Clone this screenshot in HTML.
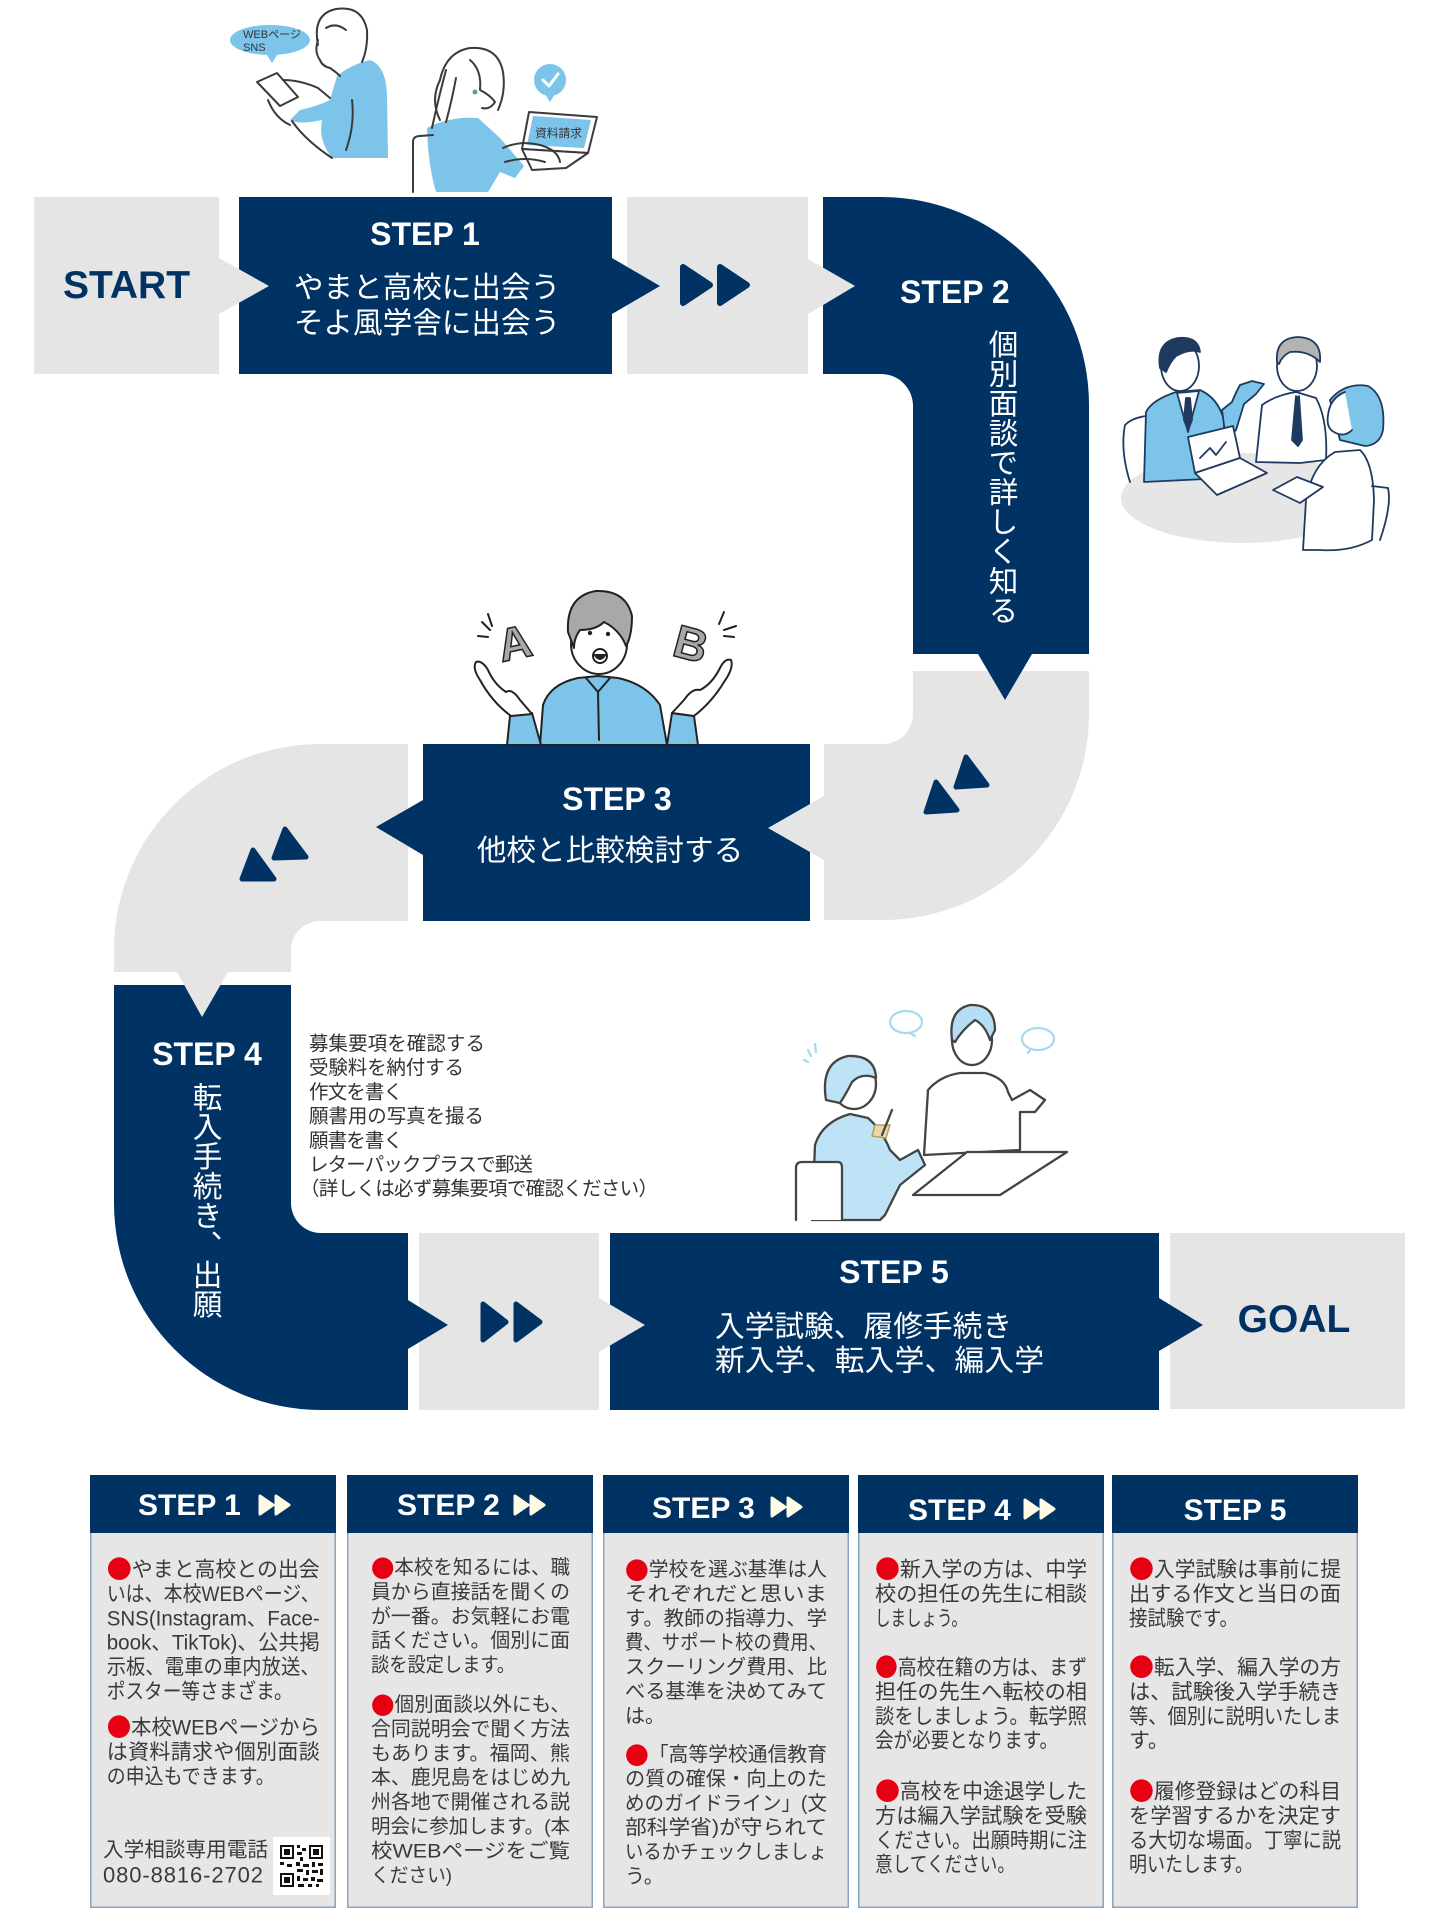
<!DOCTYPE html>
<html lang="ja">
<head>
<meta charset="utf-8">
<title>入学までの流れ</title>
<style>
html,body{margin:0;padding:0;background:#fff;}
body{width:1440px;height:1922px;position:relative;overflow:hidden;font-family:"Liberation Sans","Noto Sans CJK JP",sans-serif;}
svg.main{position:absolute;left:0;top:0;}
.v{position:absolute;writing-mode:vertical-rl;color:#fff;font-family:"Liberation Sans","Noto Sans CJK JP",sans-serif;font-size:29.6px;line-height:30px;width:30px;white-space:nowrap;}
.cb text{dominant-baseline:central;fill:#3a3a3a;}
.cb tspan.bl{fill:#e60012;font-family:"Noto Sans CJK JP",sans-serif;font-size:1.2em;baseline-shift:2px;}
.jp{dominant-baseline:central;}
</style>
</head>
<body>
<svg class="main" width="1440" height="1922" viewBox="0 0 1440 1922" xmlns="http://www.w3.org/2000/svg" font-family="'Liberation Sans','Noto Sans CJK JP',sans-serif">

<!-- ============ FLOW PATH ============ -->
<rect x="34" y="197" width="185" height="177" fill="#e5e5e5"/>
<rect x="239" y="197" width="373" height="177" fill="#003263"/>
<polygon points="219,258 269,286 219,314" fill="#e5e5e5"/>
<rect x="627" y="197" width="181" height="177" fill="#e5e5e5"/>
<polygon points="612,258 660,286 612,314" fill="#003263"/>
<g fill="#003263" stroke="#003263" stroke-width="6" stroke-linejoin="round">
  <polygon points="683,267 710,285 683,303"/>
  <polygon points="720,267 747,285 720,303"/>
</g>
<path d="M823,197 H881 A208,208 0 0 1 1089,405 V654 H913 V406 A32,32 0 0 0 881,374 H823 Z" fill="#003263"/>
<polygon points="808,259 855,286 808,314" fill="#e5e5e5"/>
<path d="M913,671 H1089 V714 A206,206 0 0 1 883,920 H824 V744 H883 A30,30 0 0 0 913,714 Z" fill="#e5e5e5"/>
<polygon points="978,654 1005,700 1032,654" fill="#003263"/>
<path d="M408,744 V921 H320 A29,29 0 0 0 291,950 V972 H114 V950 A206,206 0 0 1 320,744 Z" fill="#e5e5e5"/>
<rect x="423" y="744" width="387" height="177" fill="#003263"/>
<polygon points="824,796 768,828 824,860" fill="#e5e5e5"/>
<polygon points="423,800 376,827 423,855" fill="#003263"/>
<g fill="#003263" stroke="#003263" stroke-width="5" stroke-linejoin="round">
  <polygon points="966,757 956,787 987,785"/>
  <polygon points="936,782 926,812 957,810"/>
  <polygon points="285,829 274,858 306,857"/>
  <polygon points="253,850 242,879 274,879"/>
</g>
<path d="M114,985 H291 V1203 A30,30 0 0 0 321,1233 H408 V1410 H321 A207,207 0 0 1 114,1203 Z" fill="#003263"/>
<polygon points="177,972 202,1017 228,972" fill="#e5e5e5"/>
<rect x="419" y="1233" width="180" height="177" fill="#e5e5e5"/>
<polygon points="408,1300 448,1325 408,1349" fill="#003263"/>
<g fill="#003263" stroke="#003263" stroke-width="5" stroke-linejoin="round">
  <polygon points="483,1304 506,1322 483,1340"/>
  <polygon points="516,1304 540,1322 516,1340"/>
</g>
<rect x="610" y="1233" width="549" height="177" fill="#003263"/>
<polygon points="599,1298 645,1325 599,1352" fill="#e5e5e5"/>
<rect x="1170" y="1233" width="235" height="176" fill="#e5e5e5"/>
<polygon points="1159,1298 1203,1325 1159,1351" fill="#003263"/>

<!-- ============ FLOW TEXT ============ -->
<text x="126.5" y="298" text-anchor="middle" font-size="39" font-weight="bold" fill="#003263">START</text>
<text x="1294" y="1332" text-anchor="middle" font-size="39" font-weight="bold" fill="#003263">GOAL</text>

<text x="425" y="245" text-anchor="middle" font-size="32" font-weight="bold" fill="#fff">STEP 1</text>
<text class="jp" x="427" y="288" text-anchor="middle" font-size="29.6" fill="#fff">やまと高校に出会う</text>
<text class="jp" x="427" y="323.5" text-anchor="middle" font-size="29.6" fill="#fff">そよ風学舎に出会う</text>

<text x="900" y="303" font-size="32" font-weight="bold" fill="#fff">STEP 2</text>

<text x="617" y="810" text-anchor="middle" font-size="32" font-weight="bold" fill="#fff">STEP 3</text>
<text class="jp" x="610" y="851" text-anchor="middle" font-size="29.6" fill="#fff">他校と比較検討する</text>

<text x="207" y="1065" text-anchor="middle" font-size="32" font-weight="bold" fill="#fff">STEP 4</text>

<text x="894" y="1283" text-anchor="middle" font-size="32" font-weight="bold" fill="#fff">STEP 5</text>
<text class="jp" x="715" y="1327" font-size="29.7" fill="#fff" textLength="297" lengthAdjust="spacing">入学試験、履修手続き</text>
<text class="jp" x="715" y="1361" font-size="29.7" fill="#fff" textLength="329" lengthAdjust="spacing">新入学、転入学、編入学</text>

<g font-size="19.5" fill="#333">
  <text class="jp" x="309" y="1044" textLength="176" lengthAdjust="spacing">募集要項を確認する</text>
  <text class="jp" x="309" y="1068.2" textLength="155" lengthAdjust="spacing">受験料を納付する</text>
  <text class="jp" x="309" y="1092.4" textLength="94" lengthAdjust="spacing">作文を書く</text>
  <text class="jp" x="309" y="1116.6" textLength="175" lengthAdjust="spacing">願書用の写真を撮る</text>
  <text class="jp" x="309" y="1140.8" textLength="94" lengthAdjust="spacing">願書を書く</text>
  <text class="jp" x="309" y="1165" textLength="224" lengthAdjust="spacing">レターパックプラスで郵送</text>
  <text class="jp" x="300" y="1189.2" textLength="358" lengthAdjust="spacing">（詳しくは必ず募集要項で確認ください）</text>
</g>

<!-- ============ ILLUSTRATIONS ============ -->
<g stroke="#3a3a3a" stroke-width="2" stroke-linejoin="round" stroke-linecap="round">
  <ellipse cx="270" cy="40" rx="40" ry="15" fill="#7cc4ea" stroke="none"/>
  <polygon points="265,52 272,63 279,52" fill="#7cc4ea" stroke="none"/>
  <path d="M337,76 Q352,64 370,60 Q386,66 387,95 L388,158 L332,158 Q318,140 322,120 Q300,125 290,120 L300,110 Q318,106 330,100 Z" fill="#7cc4ea" stroke="none"/>
  <path d="M292,121 Q305,140 332,158" fill="none"/>
  <path d="M352,100 Q355,125 346,150" fill="none"/>
  <path d="M318,45 Q312,14 336,9 Q362,5 367,30 Q368,48 362,62" fill="none"/>
  <path d="M318,40 Q314,52 320,60 Q322,66 330,68 Q336,72 340,76" fill="none"/>
  <path d="M326,28 Q336,22 346,30" fill="none"/>
  <polygon points="257,82 277,73 298,97 280,106" fill="#fff"/>
  <path d="M268,100 Q275,118 290,125 M283,80 Q300,80 318,88 L330,98" fill="none"/>
</g>
<text x="243" y="38" font-size="11" fill="#333" textLength="58" lengthAdjust="spacingAndGlyphs">WEBページ</text>
<text x="243" y="51" font-size="11" fill="#333">SNS</text>

<g stroke="#3a3a3a" stroke-width="2" stroke-linejoin="round" stroke-linecap="round">
  <path d="M427,128 Q450,116 478,118 L500,138 L524,166 L515,178 L500,172 L488,192 L436,192 Q428,165 427,128 Z" fill="#7cc4ea" stroke="none"/>
  <path d="M413,192 V142 Q413,136 420,136 L433,135" fill="none"/>
  <path d="M440,120 Q430,100 440,80 Q446,52 470,48 Q498,46 503,72 Q506,92 498,110" fill="none"/>
  <path d="M470,60 Q482,70 480,90 Q490,95 495,102 Q490,110 482,108" fill="none"/>
  <path d="M446,70 Q438,100 432,128 M456,78 Q452,100 446,122" fill="none"/>
  <circle cx="475" cy="92" r="2.5" fill="#5aa870" stroke="none"/>
  <polygon points="529,112 597,117 588,153 522,149" fill="#fff"/>
  <polygon points="533,116 591,120 584,148 527,145" fill="#7cc4ea" stroke="none"/>
  <polygon points="522,149 588,153 566,168 532,170" fill="#fff"/>
  <path d="M503,148 Q520,140 540,145 Q558,150 560,162 M505,162 Q525,156 545,162" fill="none"/>
  <circle cx="550" cy="80" r="16" fill="#7cc4ea" stroke="none"/>
  <polygon points="545,94 550,102 555,94" fill="#7cc4ea" stroke="none"/>
  <path d="M543,80 L549,86 L558,74" fill="none" stroke="#fff" stroke-width="3"/>
</g>
<text x="535" y="137" font-size="11.5" fill="#333" textLength="47" lengthAdjust="spacingAndGlyphs">資料請求</text>

<g stroke="#1e3a5f" stroke-width="1.8" stroke-linejoin="round" stroke-linecap="round">
  <ellipse cx="1242" cy="498" rx="121" ry="45" fill="#e6e6e6" stroke="none"/>
  <path d="M1130,482 Q1120,450 1125,425 Q1132,418 1146,416" fill="#fff"/>
  <path d="M1144,482 L1146,412 Q1152,400 1176,392 L1200,390 Q1218,398 1224,420 L1226,478 Z" fill="#7cc4ea"/>
  <path d="M1177,393 L1188,432 L1199,391 Z" fill="#fff"/>
  <path d="M1186,398 L1184,420 L1188,430 L1192,420 L1190,398 Z" fill="#1e3a5f"/>
  <path d="M1222,410 L1232,402 Q1236,392 1240,385 L1252,381 L1264,384 L1256,394 L1244,404 L1236,430 L1226,440 Z" fill="#7cc4ea"/>
  <ellipse cx="1180" cy="366" rx="19" ry="25" fill="#fff"/>
  <path d="M1160,368 Q1156,342 1178,338 Q1198,336 1200,352 Q1190,348 1176,356 Q1170,362 1166,372 Z" fill="#1e3a5f"/>
  <polygon points="1188,437 1233,426 1240,458 1195,473" fill="#fff"/>
  <path d="M1200,458 L1210,448 L1216,455 L1226,442" fill="none"/>
  <polygon points="1195,473 1240,458 1267,473 1217,495" fill="#fff"/>
  <path d="M1256,462 L1262,405 Q1276,395 1296,392 L1316,398 Q1328,420 1326,460 L1300,463 Z" fill="#fff"/>
  <path d="M1296,396 L1292,440 L1298,446 L1302,440 L1299,396" fill="#1e3a5f"/>
  <ellipse cx="1297" cy="366" rx="20" ry="25" fill="#fff"/>
  <path d="M1277,362 Q1275,338 1298,337 Q1322,338 1320,362 Q1308,350 1290,352 Q1282,356 1279,364 Z" fill="#b3b3b3"/>
  <path d="M1330,400 Q1345,382 1368,386 Q1386,396 1383,430 Q1380,445 1365,446 L1340,440 Z" fill="#7cc4ea"/>
  <path d="M1345,392 Q1330,398 1328,415 Q1326,428 1334,432 Q1344,438 1352,430" fill="#fff"/>
  <path d="M1303,550 L1306,500 Q1312,465 1335,452 L1360,450 Q1373,462 1374,500 L1372,540 Q1350,552 1320,550 Z" fill="#fff"/>
  <path d="M1380,540 Q1392,505 1388,488 L1372,486" fill="none"/>
  <polygon points="1273,490 1297,477 1323,487 1300,503" fill="#fff"/>
</g>

<g stroke="#222" stroke-width="2" stroke-linejoin="round" stroke-linecap="round">
  <path d="M540,745 L543,705 Q550,684 578,678 L598,676 L618,678 Q646,684 660,705 L667,745 Z" fill="#7cc4ea"/>
  <path d="M586,678 L598,692 L610,678 M598,692 L599,740" fill="none"/>
  <path d="M507,745 L510,716 L532,713 L541,745 Z" fill="#7cc4ea"/>
  <path d="M667,745 L672,713 L694,716 L698,745 Z" fill="#7cc4ea"/>
  <path d="M511,716 Q492,702 480,680 Q472,668 476,662 Q482,660 488,670 Q494,684 506,692 Q512,688 520,700 L532,714 Z" fill="#fff"/>
  <path d="M694,716 Q712,702 724,682 Q734,668 731,660 Q725,658 720,668 Q712,684 700,690 Q692,688 684,700 L672,713 Z" fill="#fff"/>
  <ellipse cx="599" cy="644" rx="28" ry="30" fill="#fff"/>
  <path d="M568,632 Q566,596 596,591 Q626,590 632,616 Q632,636 626,646 Q620,630 604,622 Q596,630 580,630 Q574,638 574,648 Z" fill="#a8a8a8"/>
  <circle cx="590" cy="633" r="2.2" fill="#222" stroke="none"/>
  <circle cx="608" cy="634" r="2.2" fill="#222" stroke="none"/>
  <ellipse cx="600" cy="656" rx="7" ry="7" fill="#fff"/>
  <path d="M593,654 Q600,666 607,654 Z" fill="#222" stroke="none"/>
  <path d="M482,622 L490,630 M478,636 L488,637 M488,614 L492,626 M724,612 L719,624 M736,626 L724,630 M734,637 L724,636" fill="none"/>
</g>
<text x="514" y="659" font-size="46" font-weight="bold" text-anchor="middle" fill="#a8a8a8" stroke="#222" stroke-width="1.5" transform="rotate(-12 514 640)">A</text>
<text x="692" y="660" font-size="46" font-weight="bold" text-anchor="middle" fill="#a8a8a8" stroke="#222" stroke-width="1.5" transform="rotate(15 692 640)">B</text>

<g stroke="#444" stroke-width="2.3" stroke-linejoin="round" stroke-linecap="round">
  <ellipse cx="906" cy="1022" rx="16" ry="11" fill="none" stroke="#a9d9f2"/>
  <path d="M910,1033 L915,1036" fill="none" stroke="#a9d9f2"/>
  <ellipse cx="1038" cy="1039" rx="16" ry="11" fill="none" stroke="#a9d9f2"/>
  <path d="M1030,1050 L1028,1053" fill="none" stroke="#a9d9f2"/>
  <path d="M804,1060 L808,1062 M808,1050 L811,1056 M815,1044 L816,1052" fill="none" stroke="#a9d9f2"/>
  <path d="M924,1155 L928,1090 Q940,1076 960,1073 L985,1073 Q1005,1078 1008,1092 L1012,1100 L1030,1090 L1045,1100 L1035,1112 L1020,1112 L1020,1150 Z" fill="#fff"/>
  <ellipse cx="972" cy="1040" rx="20" ry="25" fill="#fff"/>
  <path d="M952,1040 Q948,1010 970,1005 Q995,1004 995,1030 L990,1040 Q985,1025 975,1020 Q962,1030 955,1042 Z" fill="#b5def5"/>
  <polygon points="967,1152 1067,1152 1000,1195 913,1195" fill="#fff"/>
  <path d="M812,1220 L815,1145 Q822,1122 850,1114 L868,1118 Q882,1130 890,1150 L900,1160 L918,1150 L925,1165 L900,1185 L885,1215 L880,1220 Z" fill="#bfe3f6"/>
  <ellipse cx="854" cy="1084" rx="22" ry="25" fill="#fff"/>
  <path d="M826,1100 Q820,1062 848,1056 Q875,1055 876,1078 Q862,1072 852,1082 Q846,1094 840,1103 Z" fill="#bfe3f6"/>
  <path d="M875,1125 L890,1125 L886,1138 L872,1136 Z" fill="#e9d9a6" stroke="#b8a060" stroke-width="1.5"/>
  <path d="M882,1135 L892,1110" fill="none"/>
  <path d="M796,1220 V1168 Q796,1162 802,1162 L838,1162 Q842,1162 842,1168 V1220" fill="#fff"/>
</g>

<!-- ============ CARDS ============ -->
<g stroke="#8ba4c0" stroke-width="1.5" fill="#e6e6e6">
  <rect x="90.75" y="1475.75" width="244.5" height="431.5"/>
  <rect x="347.75" y="1475.75" width="244.5" height="431.5"/>
  <rect x="603.75" y="1475.75" width="244.5" height="431.5"/>
  <rect x="858.75" y="1475.75" width="244.5" height="431.5"/>
  <rect x="1112.75" y="1475.75" width="244.5" height="431.5"/>
</g>
<g fill="#003263">
  <rect x="90" y="1475" width="246" height="58"/>
  <rect x="347" y="1475" width="246" height="58"/>
  <rect x="603" y="1475" width="246" height="58"/>
  <rect x="858" y="1475" width="246" height="58"/>
  <rect x="1112" y="1475" width="246" height="58"/>
</g>
<g font-size="30" font-weight="bold" fill="#fff">
  <text x="138" y="1515">STEP 1</text>
  <text x="397" y="1515">STEP 2</text>
  <text x="652" y="1518">STEP 3</text>
  <text x="908" y="1520">STEP 4</text>
  <text x="1235" y="1520" text-anchor="middle">STEP 5</text>
</g>
<g fill="#fffbe6" stroke="#fffbe6" stroke-width="3" stroke-linejoin="round">
  <polygon points="260,1496 273,1505 260,1514"/><polygon points="276,1496 289,1505 276,1514"/>
  <polygon points="515,1496 528,1505 515,1514"/><polygon points="531,1496 544,1505 531,1514"/>
  <polygon points="772,1498 785,1507 772,1516"/><polygon points="788,1498 801,1507 788,1516"/>
  <polygon points="1025,1500 1038,1509 1025,1518"/><polygon points="1041,1500 1054,1509 1041,1518"/>
</g>

<!-- Card 1 -->
<g class="cb" font-size="21">
  <text x="106.7" y="1570" textLength="213" lengthAdjust="spacingAndGlyphs"><tspan class="bl">●</tspan>やまと高校との出会</text>
  <text x="106.7" y="1594.4" textLength="213" lengthAdjust="spacingAndGlyphs">いは、本校WEBページ、</text>
  <text x="106.7" y="1618.8" textLength="213" lengthAdjust="spacingAndGlyphs">SNS(Instagram、Face-</text>
  <text x="106.7" y="1643.2" textLength="213" lengthAdjust="spacingAndGlyphs">book、TikTok)、公共掲</text>
  <text x="106.7" y="1667.6" textLength="213" lengthAdjust="spacingAndGlyphs">示板、電車の車内放送、</text>
  <text x="106.7" y="1692" textLength="186" lengthAdjust="spacingAndGlyphs">ポスター等さまざま。</text>
  <text x="106.7" y="1728" textLength="213" lengthAdjust="spacingAndGlyphs"><tspan class="bl">●</tspan>本校WEBページから</text>
  <text x="106.7" y="1752.4" textLength="213" lengthAdjust="spacing">は資料請求や個別面談</text>
  <text x="106.7" y="1776.8" textLength="168" lengthAdjust="spacingAndGlyphs">の申込もできます。</text>
  <text x="103" y="1850" font-size="20.6" textLength="165" lengthAdjust="spacing">入学相談専用電話</text>
  <text x="103" y="1875" font-size="22" textLength="160" lengthAdjust="spacing">080-8816-2702</text>
</g>
<rect x="273" y="1837" width="57" height="58" fill="#fff"/>
<g fill="#111">
  <rect x="280" y="1845" width="14" height="14"/><rect x="282" y="1847" width="10" height="10" fill="#fff"/><rect x="284" y="1849" width="6" height="6"/>
  <rect x="309" y="1845" width="14" height="14"/><rect x="311" y="1847" width="10" height="10" fill="#fff"/><rect x="313" y="1849" width="6" height="6"/>
  <rect x="280" y="1873" width="14" height="14"/><rect x="282" y="1875" width="10" height="10" fill="#fff"/><rect x="284" y="1877" width="6" height="6"/>
  <rect x="297" y="1845" width="3" height="3"/><rect x="302" y="1848" width="4" height="3"/><rect x="297" y="1852" width="5" height="3"/><rect x="300" y="1857" width="3" height="4"/>
  <rect x="280" y="1862" width="4" height="3"/><rect x="287" y="1864" width="5" height="3"/><rect x="296" y="1862" width="4" height="4"/><rect x="303" y="1864" width="6" height="3"/>
  <rect x="312" y="1862" width="3" height="5"/><rect x="318" y="1863" width="5" height="3"/><rect x="297" y="1869" width="6" height="3"/><rect x="306" y="1870" width="3" height="5"/>
  <rect x="312" y="1870" width="6" height="3"/><rect x="320" y="1869" width="3" height="6"/><rect x="297" y="1876" width="3" height="5"/><rect x="303" y="1878" width="5" height="3"/>
  <rect x="311" y="1877" width="4" height="4"/><rect x="317" y="1879" width="6" height="3"/><rect x="298" y="1884" width="6" height="3"/><rect x="308" y="1884" width="4" height="3"/><rect x="316" y="1884" width="3" height="3"/>
</g>

<!-- Card 2 -->
<g class="cb" font-size="19.8">
  <text x="371" y="1568" textLength="199" lengthAdjust="spacingAndGlyphs"><tspan class="bl">●</tspan>本校を知るには、職</text>
  <text x="371" y="1592.4" textLength="199" lengthAdjust="spacingAndGlyphs">員から直接話を聞くの</text>
  <text x="371" y="1616.8" textLength="199" lengthAdjust="spacingAndGlyphs">が一番。お気軽にお電</text>
  <text x="371" y="1641.2" textLength="199" lengthAdjust="spacingAndGlyphs">話ください。個別に面</text>
  <text x="371" y="1665.6" textLength="144" lengthAdjust="spacingAndGlyphs">談を設定します。</text>
  <text x="371" y="1705" textLength="199" lengthAdjust="spacingAndGlyphs"><tspan class="bl">●</tspan>個別面談以外にも、</text>
  <text x="371" y="1729.4" textLength="199" lengthAdjust="spacingAndGlyphs">合同説明会で聞く方法</text>
  <text x="371" y="1753.8" textLength="199" lengthAdjust="spacingAndGlyphs">もあります。福岡、熊</text>
  <text x="371" y="1778.2" textLength="199" lengthAdjust="spacingAndGlyphs">本、鹿児島をはじめ九</text>
  <text x="371" y="1802.6" textLength="199" lengthAdjust="spacingAndGlyphs">州各地で開催される説</text>
  <text x="371" y="1827" textLength="199" lengthAdjust="spacingAndGlyphs">明会に参加します。(本</text>
  <text x="371" y="1851.4" textLength="199" lengthAdjust="spacingAndGlyphs">校WEBページをご覧</text>
  <text x="371" y="1875.8" textLength="81" lengthAdjust="spacingAndGlyphs">ください)</text>
</g>

<!-- Card 3 -->
<g class="cb" font-size="20">
  <text x="625" y="1570" textLength="202" lengthAdjust="spacingAndGlyphs"><tspan class="bl">●</tspan>学校を選ぶ基準は人</text>
  <text x="625" y="1594.4" textLength="202" lengthAdjust="spacingAndGlyphs">それぞれだと思いま</text>
  <text x="625" y="1618.8" textLength="202" lengthAdjust="spacingAndGlyphs">す。教師の指導力、学</text>
  <text x="625" y="1643.2" textLength="202" lengthAdjust="spacingAndGlyphs">費、サポート校の費用、</text>
  <text x="625" y="1667.6" textLength="202" lengthAdjust="spacingAndGlyphs">スクーリング費用、比</text>
  <text x="625" y="1692" textLength="202" lengthAdjust="spacingAndGlyphs">べる基準を決めてみて</text>
  <text x="625" y="1716.4">は。</text>
  <text x="625" y="1755" textLength="202" lengthAdjust="spacingAndGlyphs"><tspan class="bl">●</tspan>「高等学校通信教育</text>
  <text x="625" y="1779.4" textLength="202" lengthAdjust="spacingAndGlyphs">の質の確保・向上のた</text>
  <text x="625" y="1803.8" textLength="202" lengthAdjust="spacingAndGlyphs">めのガイドライン」(文</text>
  <text x="625" y="1828.2" textLength="202" lengthAdjust="spacingAndGlyphs">部科学省)が守られて</text>
  <text x="625" y="1852.6" textLength="202" lengthAdjust="spacingAndGlyphs">いるかチェックしましょ</text>
  <text x="625" y="1877">う。</text>
</g>

<!-- Card 4 -->
<g class="cb" font-size="21">
  <text x="875" y="1570" textLength="212" lengthAdjust="spacingAndGlyphs"><tspan class="bl">●</tspan>新入学の方は、中学</text>
  <text x="875" y="1594.4" textLength="212" lengthAdjust="spacingAndGlyphs">校の担任の先生に相談</text>
  <text x="875" y="1618.8" textLength="92" lengthAdjust="spacingAndGlyphs">しましょう。</text>
  <text x="875" y="1668" textLength="212" lengthAdjust="spacingAndGlyphs"><tspan class="bl">●</tspan>高校在籍の方は、まず</text>
  <text x="875" y="1692.4" textLength="212" lengthAdjust="spacingAndGlyphs">担任の先生へ転校の相</text>
  <text x="875" y="1716.8" textLength="212" lengthAdjust="spacingAndGlyphs">談をしましょう。転学照</text>
  <text x="875" y="1741.2" textLength="183" lengthAdjust="spacingAndGlyphs">会が必要となります。</text>
  <text x="875" y="1792" textLength="212" lengthAdjust="spacingAndGlyphs"><tspan class="bl">●</tspan>高校を中途退学した</text>
  <text x="875" y="1816.4" textLength="212" lengthAdjust="spacingAndGlyphs">方は編入学試験を受験</text>
  <text x="875" y="1840.8" textLength="212" lengthAdjust="spacingAndGlyphs">ください。出願時期に注</text>
  <text x="875" y="1865.2" textLength="140" lengthAdjust="spacingAndGlyphs">意してください。</text>
</g>

<!-- Card 5 -->
<g class="cb" font-size="21">
  <text x="1129" y="1570" textLength="212" lengthAdjust="spacingAndGlyphs"><tspan class="bl">●</tspan>入学試験は事前に提</text>
  <text x="1129" y="1594.4" textLength="212" lengthAdjust="spacingAndGlyphs">出する作文と当日の面</text>
  <text x="1129" y="1618.8" textLength="109" lengthAdjust="spacingAndGlyphs">接試験です。</text>
  <text x="1129" y="1668" textLength="212" lengthAdjust="spacingAndGlyphs"><tspan class="bl">●</tspan>転入学、編入学の方</text>
  <text x="1129" y="1692.4" textLength="212" lengthAdjust="spacingAndGlyphs">は、試験後入学手続き</text>
  <text x="1129" y="1716.8" textLength="212" lengthAdjust="spacingAndGlyphs">等、個別に説明いたしま</text>
  <text x="1129" y="1741.2">す。</text>
  <text x="1129" y="1792" textLength="212" lengthAdjust="spacingAndGlyphs"><tspan class="bl">●</tspan>履修登録はどの科目</text>
  <text x="1129" y="1816.4" textLength="212" lengthAdjust="spacingAndGlyphs">を学習するかを決定す</text>
  <text x="1129" y="1840.8" textLength="212" lengthAdjust="spacingAndGlyphs">る大切な場面。丁寧に説</text>
  <text x="1129" y="1865.2" textLength="124" lengthAdjust="spacingAndGlyphs">明いたします。</text>
</g>
</svg>

<div class="v" style="left:985px;top:329px;">個別面談で詳しく知る</div>
<div class="v" style="left:189px;top:1082px;">転入手続き、出願</div>
</body>
</html>
